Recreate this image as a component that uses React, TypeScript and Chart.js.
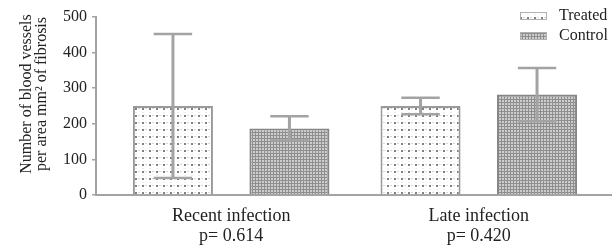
import React, { useEffect, useRef } from "react";
import { Chart, registerables } from "chart.js";

Chart.register(...registerables);

const categories: string[][] = [
  ["Recent infection", "p= 0.614"],
  ["Late infection", "p= 0.420"],
];
const seriesNames = ["Treated", "Control"];
const treatedMeans = [250, 250];
const treatedErrors = [202, 23];
const controlMeans = [187, 282];
const controlErrors = [34, 75];
const yTickValues = [0, 100, 200, 300, 400, 500];
const yTitleLines = ["Number of blood vessels", "per area mm\u00B2 of fibrosis"];

const FONT = "'Liberation Serif', 'Times New Roman', serif";
const TEXT = "#222";
const AXIS = "#a3a3a3";

function makeTreatedPattern(ctx: CanvasRenderingContext2D) {
  const c = document.createElement("canvas");
  c.width = 7;
  c.height = 7;
  const g = c.getContext("2d")!;
  g.fillStyle = "#ffffff";
  g.fillRect(0, 0, 7, 7);
  g.fillStyle = "#d6d6d6";
  g.fillRect(5, 3, 2, 1);
  g.fillStyle = "#ececec";
  g.fillRect(2, 0, 2, 1);
  g.fillStyle = "#808080";
  g.fillRect(2, 3, 2, 2);
  return ctx.createPattern(c, "repeat")!;
}

function makeControlPattern(ctx: CanvasRenderingContext2D) {
  const c = document.createElement("canvas");
  c.width = 3;
  c.height = 3;
  const g = c.getContext("2d")!;
  g.fillStyle = "#cdcdcd";
  g.fillRect(0, 0, 3, 3);
  g.fillStyle = "#8e8e8e";
  g.fillRect(0, 0, 3, 1);
  g.fillRect(0, 0, 1, 3);
  return ctx.createPattern(c, "repeat")!;
}

const errorSets = [treatedErrors, controlErrors];

const errorBarPlugin = {
  id: "errorBars",
  afterDatasetsDraw(chart: any) {
    const ctx = chart.ctx;
    const yScale = chart.scales.y;
    ctx.save();
    ctx.strokeStyle = AXIS;
    ctx.lineCap = "butt";
    chart.data.datasets.forEach((ds: any, di: number) => {
      const meta = chart.getDatasetMeta(di);
      meta.data.forEach((el: any, i: number) => {
        const mean = ds.data[i].y;
        const err = errorSets[di][i];
        const x = el.x;
        const yt = yScale.getPixelForValue(mean + err);
        const yb = yScale.getPixelForValue(mean - err);
        const half = el.width * 0.24;
        ctx.lineWidth = 3;
        ctx.beginPath();
        ctx.moveTo(x, yt);
        ctx.lineTo(x, yb);
        ctx.stroke();
        ctx.lineWidth = 2.5;
        ctx.beginPath();
        ctx.moveTo(x - half, yt);
        ctx.lineTo(x + half, yt);
        ctx.moveTo(x - half, yb);
        ctx.lineTo(x + half, yb);
        ctx.stroke();
      });
    });
    ctx.restore();
  },
};

const yTitlePlugin = {
  id: "yTitle",
  afterDraw(chart: any) {
    const ctx = chart.ctx;
    const area = chart.chartArea;
    ctx.save();
    ctx.font = `16px ${FONT}`;
    ctx.fillStyle = TEXT;
    ctx.textAlign = "center";
    ctx.textBaseline = "middle";
    const cy = (area.top + area.bottom) / 2 - 12;
    yTitleLines.forEach((line, i) => {
      ctx.save();
      ctx.translate(27 + i * 15, cy);
      ctx.rotate(-Math.PI / 2);
      ctx.fillText(line, 0, 0);
      ctx.restore();
    });
    ctx.restore();
  },
};

const legendPlugin = {
  id: "customLegend",
  afterDraw(chart: any) {
    const ctx = chart.ctx;
    const area = chart.chartArea;
    ctx.save();
    ctx.font = `16px ${FONT}`;
    ctx.textBaseline = "middle";
    ctx.textAlign = "left";
    chart.data.datasets.forEach((ds: any, i: number) => {
      const bx = area.right - 91;
      const by = area.top - 5 + i * 20;
      ctx.fillStyle = ds.backgroundColor;
      ctx.fillRect(bx, by, 27, 8);
      ctx.strokeStyle = "#b0b0b0";
      ctx.lineWidth = 1;
      ctx.strokeRect(bx + 0.5, by + 0.5, 26, 7);
      ctx.fillStyle = TEXT;
      ctx.fillText(ds.label, bx + 39, by + 4);
    });
    ctx.restore();
  },
};

export default function App() {
  const ref = useRef<HTMLCanvasElement | null>(null);

  useEffect(() => {
    const canvas = ref.current!;
    const ctx = canvas.getContext("2d")!;
    const treatedFill = makeTreatedPattern(ctx);
    const controlFill = makeControlPattern(ctx);

    const chart = new Chart(canvas, {
      type: "bar",
      data: {
        datasets: [
          {
            label: seriesNames[0],
            data: treatedMeans.map((v, i) => ({ x: i, y: v })),
            backgroundColor: treatedFill as any,
            borderColor: "#9a9a9a",
            borderWidth: 2,
            categoryPercentage: 0.941,
            barPercentage: 0.687,
          },
          {
            label: seriesNames[1],
            data: controlMeans.map((v, i) => ({ x: i, y: v })),
            backgroundColor: controlFill as any,
            borderColor: "#858585",
            borderWidth: 2,
            categoryPercentage: 0.941,
            barPercentage: 0.687,
          },
        ] as any,
      },
      options: {
        responsive: false,
        animation: false,
        layout: { padding: { top: 17, right: 1, bottom: 0, left: 0 } },
        plugins: {
          legend: { display: false },
          tooltip: { enabled: false },
        },
        scales: {
          x: {
            type: "linear",
            offset: false,
            bounds: "data",
            min: -0.546,
            max: 1.534,
            afterBuildTicks: (scale: any) => {
              scale.ticks = categories.map((_, i) => ({ value: i }));
            },
            afterFit: (scale: any) => {
              scale.height = 57;
            },
            grid: { display: false, offset: false },
            border: { display: true, color: AXIS, width: 2 },
            ticks: {
              autoSkip: false,
              maxRotation: 0,
              padding: 4,
              color: TEXT,
              font: { family: FONT, size: 18, lineHeight: 1.08 },
              callback: (v: any) => categories[Math.round(v)] ?? "",
            },
          },
          y: {
            min: 0,
            max: 500,
            afterBuildTicks: (scale: any) => {
              scale.ticks = yTickValues.map((v) => ({ value: v }));
            },
            afterFit: (scale: any) => {
              scale.width = 96;
            },
            grid: {
              drawOnChartArea: false,
              drawTicks: true,
              tickLength: 4,
              color: AXIS,
              lineWidth: 1.5,
            },
            border: { display: true, color: AXIS, width: 2 },
            ticks: {
              padding: 5,
              color: TEXT,
              font: { family: FONT, size: 16 },
            },
          },
        },
      },
      plugins: [errorBarPlugin, yTitlePlugin, legendPlugin],
    });

    return () => chart.destroy();
  }, []);

  return (
    <div style={{ position: "absolute", left: 0, top: 0, width: 612, height: 252 }}>
      <canvas ref={ref} width={612} height={252} style={{ display: "block" }} />
    </div>
  );
}
